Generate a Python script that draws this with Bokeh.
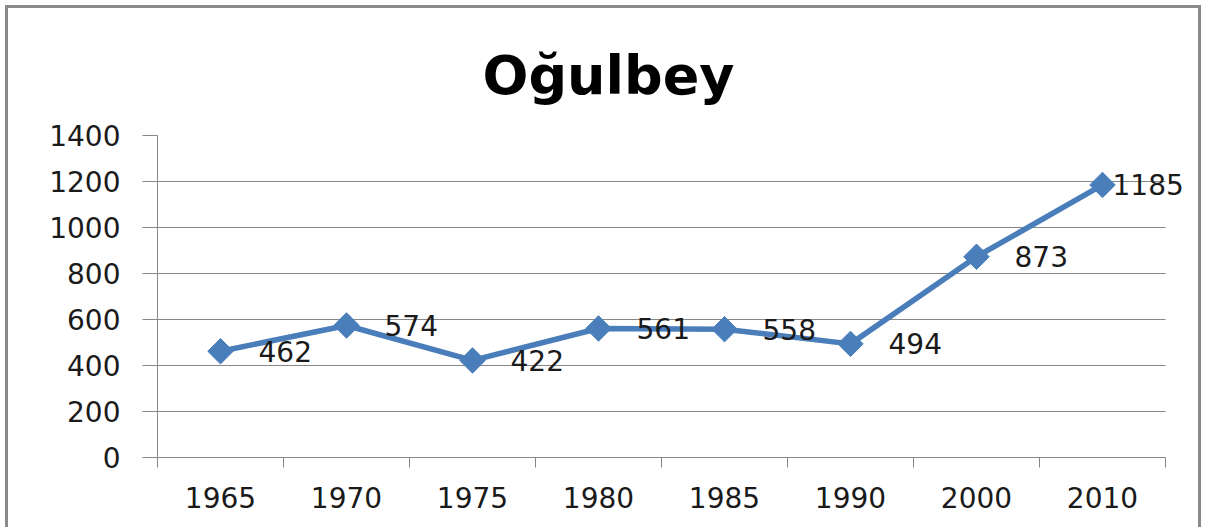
import math
from bokeh.plotting import figure
from bokeh.models import (ColumnDataSource, Range1d, FixedTicker, LabelSet, Title)
from bokeh.core.properties import value
from bokeh.embed import file_html
from bokeh.resources import INLINE

# ---- data ----
years = ["1965", "1970", "1975", "1980", "1985", "1990", "2000", "2010"]
population = [462, 574, 422, 561, 558, 494, 873, 1185]
y_ticks = [0, 200, 400, 600, 800, 1000, 1200, 1400]
title_text = "Oğulbey"

LINE_COLOR = "#4A7EBB"
GRID_COLOR = "#878787"
FONT = "DejaVu Sans"
TXT = "28px"

n = len(years)
xs = [i + 0.5 for i in range(n)]
label_offsets = [38] * (n - 1) + [10]
src = ColumnDataSource(dict(x=xs, y=population, lab=[str(v) for v in population], off=label_offsets))

# frame is widened to the right so the last data label is not clipped;
# grid lines and the x axis stop at the last category boundary
x_end = n * 1043 / 1008

p = figure(width=1196, height=522, output_backend="svg", toolbar_location=None,
           x_range=Range1d(0, x_end), y_range=Range1d(0, 1400),
           min_border_left=149, min_border_right=4, min_border_top=127, min_border_bottom=73)
p.outline_line_color = None
p.background_fill_color = "white"
p.border_fill_color = "white"
p.styles = {"border-top": "3px solid #8a8a8a", "border-left": "3px solid #8a8a8a",
            "border-right": "3px solid #8a8a8a", "margin-left": "5px", "margin-top": "5px"}

# title
p.title = Title(text=title_text, align="left", offset=325, vertical_align="bottom",
                standoff=58, text_font=FONT, text_font_style="bold",
                text_font_size="54px", text_color="#000000")

# grid
p.xgrid.grid_line_color = None
p.ygrid.ticker = FixedTicker(ticks=y_ticks)
p.ygrid.grid_line_color = GRID_COLOR
p.ygrid.grid_line_width = 1
try:
    p.ygrid.cross_bounds = (0, n)
except AttributeError:
    pass

# y axis
ya = p.yaxis[0]
ya.ticker = FixedTicker(ticks=y_ticks)
ya.axis_line_color = GRID_COLOR
ya.major_tick_line_color = GRID_COLOR
ya.major_tick_out = 15
ya.major_tick_in = 0
ya.minor_tick_line_color = None
ya.major_label_standoff = 22
ya.major_label_text_font = FONT
ya.major_label_text_font_size = TXT
ya.major_label_text_color = "#1a1a1a"

# x axis: labels at category centres, tick marks at boundaries
xa = p.xaxis[0]
xa.bounds = (0, n)
xa.ticker = FixedTicker(ticks=xs, minor_ticks=list(range(n + 1)))
xa.major_label_overrides = {x: y for x, y in zip(xs, years)}
xa.axis_line_color = GRID_COLOR
xa.major_tick_line_color = None
xa.major_tick_out = 0
xa.major_tick_in = 0
xa.minor_tick_line_color = GRID_COLOR
xa.minor_tick_out = 10
xa.minor_tick_in = 0
xa.major_label_standoff = 19
xa.major_label_text_font = FONT
xa.major_label_text_font_size = TXT
xa.major_label_text_color = "#1a1a1a"

# series
p.line("x", "y", source=src, line_color=LINE_COLOR, line_width=5.5)
p.scatter("x", "y", source=src, marker="square", size=18, angle=math.pi / 4,
          fill_color=LINE_COLOR, line_color=LINE_COLOR)

labels = LabelSet(x="x", y="y", text="lab", source=src, x_offset="off",
                  text_align="left", text_baseline="middle",
                  text_font=value(FONT), text_font_size=value(TXT), text_color="#1a1a1a")
p.add_layout(labels)

open("out.html", "w").write(file_html(p, INLINE))
